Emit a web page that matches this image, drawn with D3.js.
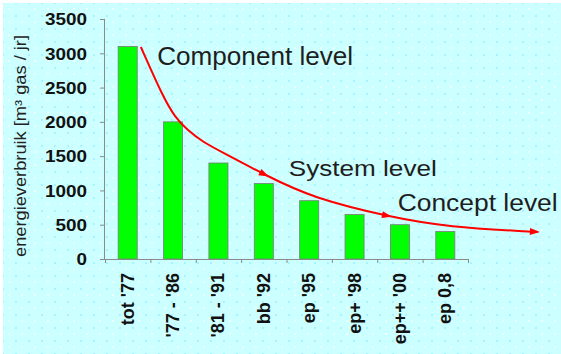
<!DOCTYPE html>
<html>
<head>
<meta charset="utf-8">
<script src="https://cdn.jsdelivr.net/npm/d3@7"></script>
<style>
html,body{margin:0;padding:0;background:#fff;}
svg{display:block;}
text{font-family:"Liberation Sans",Arial,sans-serif;}
</style>
</head>
<body>
<svg id="chart" width="561" height="354"></svg>
<script>
// ---- data ----
const categories = ["tot '77", "'77 - '86", "'81 - '91", "bb '92", "ep '95", "ep+ '98", "ep++ '00", "ep 0,8"];
const values = [3100, 2000, 1400, 1100, 850, 650, 500, 400];
const yTicks = [0, 500, 1000, 1500, 2000, 2500, 3000, 3500];
const yTitle = "energieverbruik [m³ gas / jr]";
// trend curve, in category-index units (x) and value units (y)
const curveX = [0.79, 1.28, 1.54, 1.81, 2.16, 2.53, 3.57, 4.58, 6.28, 7.54, 9.54];
const curveY = [3092, 2362, 2071, 1881, 1706, 1575, 1210, 890, 612, 467, 394];
const arrowAtX = [3.57, 6.28, 9.54];
const levelLabels = ["Component level", "System level", "Concept level"];
const levelX = [1.15, 4.05, 6.45];
const levelY = [2830, 1215, 700];

// ---- setup ----
const svg = d3.select("#chart");
const W = 561, H = 354;

const defs = svg.append("defs");
const pat = defs.append("pattern").attr("id", "dots")
  .attr("patternUnits", "userSpaceOnUse").attr("width", 13).attr("height", 13);
pat.append("rect").attr("width", 13).attr("height", 13).attr("fill", "#ccffff");
pat.append("rect").attr("x", 2).attr("y", 2).attr("width", 2).attr("height", 2).attr("fill", "#a6f4ff");
pat.append("rect").attr("x", 8).attr("y", 8).attr("width", 2).attr("height", 2).attr("fill", "#eaffff");

svg.append("rect").attr("x", 3).attr("y", 3).attr("width", W - 3).attr("height", H - 3).attr("fill", "url(#dots)");

const x0 = 105, x1 = 468, yBase = 259, yTop = 19;
const x = d3.scaleBand().domain(categories).range([x0, x1]).paddingInner(0.58).paddingOuter(0.29);
const xIdx = d3.scaleLinear().domain([0, categories.length]).range([x0, x1]);
const y = d3.scaleLinear().domain([0, 3500]).range([yBase, yTop]);

const axisColor = "#8a8a8a";

// bars
svg.append("g").selectAll("rect").data(values).join("rect")
  .attr("x", (d, i) => x(categories[i]))
  .attr("width", x.bandwidth())
  .attr("y", d => y(d))
  .attr("height", d => y(0) - y(d))
  .attr("fill", "#00ff00")
  .attr("stroke", "#7a7a7a")
  .attr("stroke-width", 0.8);

// y axis
const yAxis = svg.append("g").attr("transform", `translate(${x0},0)`)
  .call(d3.axisLeft(y).tickValues(yTicks).tickSize(5).tickFormat(d3.format("d")));
yAxis.select(".domain").attr("stroke", axisColor).attr("d", `M-0.5,${y(3500)}V${y(0)}`);
yAxis.selectAll(".tick line").attr("stroke", axisColor);
yAxis.selectAll(".tick text")
  .attr("x", -18)
  .attr("dy", "0.36em")
  .attr("fill", "#111")
  .style("font-size", "16px")
  .style("font-weight", "bold")
  .attr("font-family", "Liberation Sans, Arial, sans-serif")
  .attr("textLength", d => String(d).length * 10.5)
  .attr("lengthAdjust", "spacingAndGlyphs");

// x axis with ticks at band edges
const xAxis = svg.append("g").attr("transform", `translate(0,${yBase})`)
  .call(d3.axisBottom(xIdx).tickValues(d3.range(0, categories.length + 1)).tickSize(4).tickFormat(""));
xAxis.select(".domain").attr("stroke", axisColor).attr("d", `M${x0},0.5H${x1}`);
xAxis.selectAll(".tick line").attr("stroke", axisColor);

// x labels (rotated)
svg.append("g").selectAll("text").data(categories).join("text")
  .attr("transform", d => `translate(${x(d) + x.bandwidth() / 2 + 6},273) rotate(-90)`)
  .attr("text-anchor", "end")
  .attr("fill", "#111")
  .style("font-size", "18px")
  .style("font-weight", "bold")
  .text(d => d);

// y title
svg.append("text")
  .attr("transform", `translate(26,146) rotate(-90)`)
  .attr("text-anchor", "middle")
  .attr("fill", "#222")
  .style("font-size", "16px")
  .attr("textLength", 222)
  .attr("lengthAdjust", "spacingAndGlyphs")
  .text(yTitle);

// trend curve
const pts = curveX.map((cx, i) => [xIdx(cx), y(curveY[i])]);
const line = d3.line().curve(d3.curveBasis);
const path = svg.append("path")
  .attr("d", line(pts))
  .attr("fill", "none")
  .attr("stroke", "#ff0000")
  .attr("stroke-width", 2);

const node = path.node();
const total = node.getTotalLength();
function lengthAtX(tx) {
  let lo = 0, hi = total;
  for (let k = 0; k < 40; k++) {
    const mid = (lo + hi) / 2;
    if (node.getPointAtLength(mid).x < tx) lo = mid; else hi = mid;
  }
  return (lo + hi) / 2;
}
arrowAtX.forEach(ax => {
  const L = Math.min(lengthAtX(xIdx(ax)), total);
  const p = node.getPointAtLength(L);
  const q = node.getPointAtLength(Math.max(0, L - 2));
  const ang = Math.atan2(p.y - q.y, p.x - q.x) * 180 / Math.PI;
  svg.append("path")
    .attr("d", "M2,0 L-8,-3.5 L-8,3.5 Z")
    .attr("fill", "#ff0000")
    .attr("transform", `translate(${p.x},${p.y}) rotate(${ang})`);
});

// level labels
const labelSizes = [25, 22, 23];
const labelLens = [196, 148, 160];
svg.append("g").selectAll("text").data(levelLabels).join("text")
  .attr("x", (d, i) => xIdx(levelX[i]))
  .attr("y", (d, i) => y(levelY[i]))
  .attr("fill", "#1e1e1e")
  .style("font-size", (d, i) => labelSizes[i] + "px")
  .attr("textLength", (d, i) => labelLens[i])
  .attr("lengthAdjust", "spacingAndGlyphs")
  .text(d => d);
</script>
</body>
</html>
